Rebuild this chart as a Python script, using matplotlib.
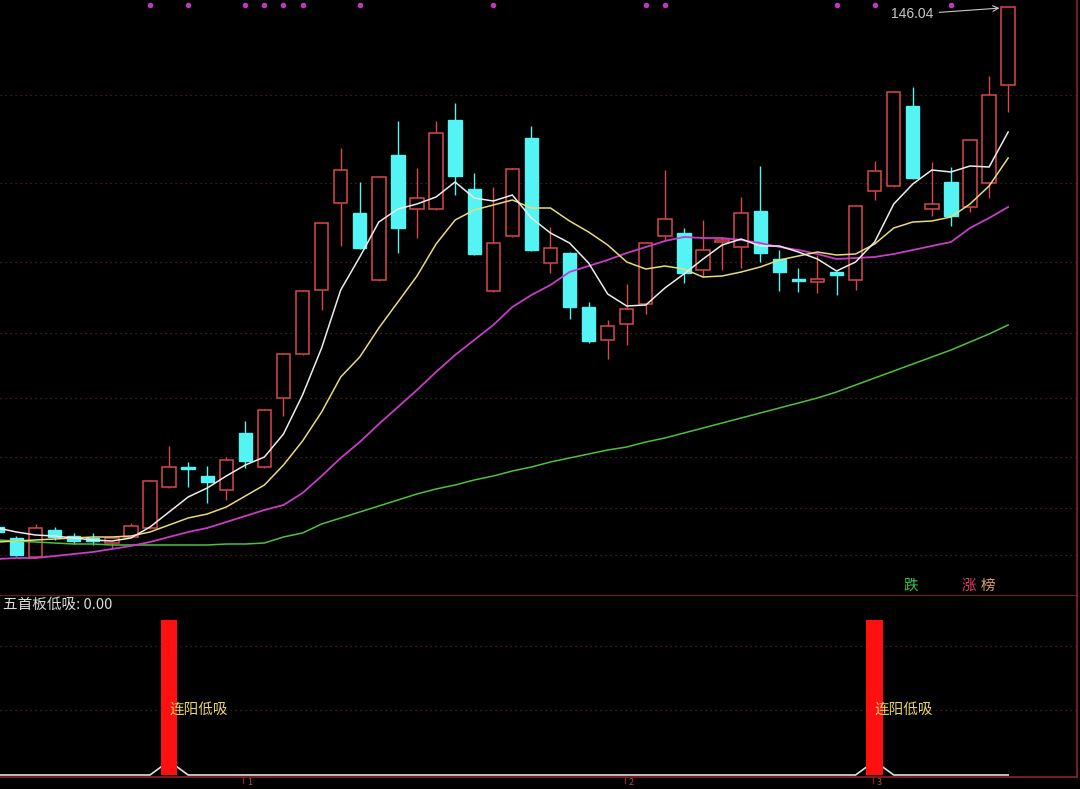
import matplotlib
matplotlib.use("Agg")
import matplotlib.pyplot as plt
import matplotlib.transforms as mtransforms

plt.rcParams['font.family'] = ['Noto Sans CJK SC', 'DejaVu Sans']

# ---------------- 日K数据 ----------------
opens = [52.44, 50.46, 47.04, 51.90, 50.82, 50.46, 49.56, 50.64, 52.26, 59.64,
         63.24, 61.62, 59.10, 69.36, 63.24, 75.66, 83.58, 95.10, 110.76, 108.96,
         96.90, 119.40, 109.68, 109.68, 125.70, 113.28, 94.92, 104.82, 122.46, 99.96,
         101.76, 92.04, 86.10, 88.98, 92.58, 104.82, 105.36, 98.70, 103.74, 102.84,
         109.32, 100.68, 97.08, 96.54, 98.34, 96.90, 112.92, 113.82, 128.22, 109.68,
         114.54, 110.04, 114.36, 132.00]
closes = [51.54, 47.40, 52.26, 50.64, 49.92, 49.92, 50.46, 52.62, 60.72, 63.24,
          62.88, 60.54, 64.50, 64.32, 73.50, 83.58, 94.92, 107.16, 116.70, 102.66,
          115.44, 106.26, 111.66, 123.36, 115.62, 101.58, 103.56, 116.88, 102.30, 102.66,
          92.04, 85.92, 88.62, 91.68, 103.56, 107.88, 98.16, 102.30, 104.10, 108.96,
          101.76, 98.34, 96.72, 97.08, 97.80, 110.22, 116.52, 130.74, 115.26, 110.58,
          108.42, 122.10, 130.20, 146.04]
highs = [52.80, 50.82, 52.98, 52.44, 51.36, 51.36, 50.64, 53.16, 60.90, 67.02,
         64.14, 63.42, 65.04, 71.52, 73.68, 83.76, 95.10, 107.34, 120.66, 114.54,
         115.62, 125.52, 117.06, 125.52, 128.76, 116.16, 113.64, 117.06, 124.62, 106.44,
         101.94, 92.94, 89.70, 96.18, 103.74, 116.70, 106.26, 107.70, 104.64, 111.84,
         117.42, 102.30, 99.06, 101.40, 98.52, 110.40, 118.32, 130.92, 131.64, 118.14,
         117.24, 122.28, 133.62, 146.04]
lows = [51.00, 47.22, 46.86, 50.10, 49.38, 49.20, 48.66, 50.46, 52.08, 59.46,
        59.64, 56.76, 57.30, 63.06, 63.06, 72.42, 83.40, 91.50, 103.02, 102.48,
        96.72, 101.76, 104.46, 109.50, 112.20, 101.40, 94.74, 104.64, 102.12, 98.16,
        89.88, 85.56, 82.68, 85.20, 90.78, 104.10, 96.36, 97.44, 98.70, 99.06,
        100.14, 94.92, 94.74, 94.56, 94.20, 95.10, 111.30, 113.64, 115.08, 108.42,
        106.62, 109.14, 111.66, 127.14]

# 均线
ma5 = [52.26, 51.54, 51.00, 50.82, 50.46, 50.10, 49.92, 50.46, 52.44, 55.14,
       57.84, 59.46, 61.62, 63.60, 65.04, 69.18, 76.20, 84.66, 95.10, 101.04,
       107.34, 109.68, 110.58, 111.84, 114.54, 111.66, 111.12, 112.20, 108.06, 105.36,
       103.56, 99.96, 94.38, 92.22, 92.40, 95.46, 97.98, 100.68, 103.20, 104.28,
       103.02, 103.02, 101.94, 100.68, 98.52, 100.14, 103.74, 110.58, 114.18, 116.70,
       116.34, 117.42, 117.24, 123.54]
ma10 = [49.74, 49.92, 50.10, 50.28, 50.46, 50.64, 50.64, 50.82, 51.54, 52.80,
        54.06, 54.78, 56.04, 58.02, 60.00, 63.60, 67.92, 73.14, 79.44, 83.04,
        88.26, 92.94, 97.62, 103.38, 107.70, 109.50, 110.40, 111.30, 109.86, 109.86,
        107.52, 105.54, 103.20, 100.14, 98.88, 99.42, 98.88, 97.44, 97.62, 98.34,
        99.24, 100.50, 101.22, 101.94, 101.40, 101.58, 103.38, 106.26, 107.34, 107.52,
        108.24, 110.58, 113.82, 118.86]
ma20 = [46.68, 46.86, 46.86, 47.22, 47.58, 47.94, 48.48, 49.02, 49.74, 50.64,
        51.54, 52.26, 53.34, 54.42, 55.50, 56.40, 58.56, 61.62, 64.86, 67.74,
        70.98, 74.04, 77.10, 80.34, 83.40, 86.10, 88.80, 92.04, 94.20, 96.00,
        98.34, 99.42, 100.50, 101.76, 102.84, 103.92, 104.64, 104.46, 104.46, 104.10,
        103.56, 102.84, 102.30, 101.58, 100.68, 100.86, 101.04, 101.58, 102.30, 103.02,
        103.74, 106.26, 108.06, 110.04]
ma60 = [50.10, 49.92, 49.74, 49.56, 49.38, 49.38, 49.20, 49.20, 49.20, 49.20,
        49.20, 49.20, 49.38, 49.38, 49.56, 50.64, 51.36, 52.98, 54.06, 55.14,
        56.22, 57.30, 58.38, 59.28, 60.00, 60.90, 61.62, 62.52, 63.24, 64.14,
        64.86, 65.58, 66.30, 66.84, 67.74, 68.46, 69.36, 70.26, 71.16, 72.06,
        72.96, 73.86, 74.76, 75.66, 76.74, 78.00, 79.26, 80.52, 81.78, 83.04,
        84.30, 85.74, 87.18, 88.80]

dot_days = [8, 10, 13, 14, 15, 16, 19, 26, 34, 35, 44, 46, 50]
grid_main = [130.20, 114.36, 100.14, 87.36, 75.66, 65.04, 55.86, 47.40]
top_price = 146.04
top_day = 53

# 副图: 五首板低吸
signal_days = [9, 46]
signal_vals = [100, 100]
signal_line = [0.0] * 9 + [9.0] + [0.0] * 36 + [9.0] + [0.0] * 7
grid_sub = [83, 42]
month_days = [13, 33, 46]
month_labels = ['1', '2', '3']

UP = '#d8484c'
DOWN = '#54f4f4'
BORDER = '#8a2222'
GRID = '#5a2a2a'

fig = plt.figure(figsize=(10.8, 7.89), dpi=100, facecolor='black')
W, H = 1080.0, 789.0
ax = fig.add_axes([0, 1 - 596 / H, 1077 / W, 596 / H])
ax2 = fig.add_axes([0, 1 - 777 / H, 1077 / W, (777 - 596) / H], sharex=ax)

for a in (ax, ax2):
    a.set_facecolor('black')
    a.tick_params(left=False, bottom=False, labelleft=False, labelbottom=False)
    for s in ('top', 'left'):
        a.spines[s].set_visible(False)
    for s in ('bottom', 'right'):
        a.spines[s].set_color(BORDER)
        a.spines[s].set_linewidth(1.2)

# -------- 主图 --------
for g in grid_main:
    ax.axhline(g, color=GRID, lw=0.9, ls=(0, (1, 3)), zorder=0)

days = list(range(len(opens)))
for i in days:
    o, c, h, l = opens[i], closes[i], highs[i], lows[i]
    top, bot = max(o, c), min(o, c)
    if c >= o:
        ax.vlines(i, top, h, color=UP, lw=1, zorder=2)
        ax.vlines(i, l, bot, color=UP, lw=1, zorder=2)
        ax.bar(i, top - bot, bottom=bot, width=0.7, facecolor='black',
               edgecolor=UP, linewidth=1.1, zorder=3)
    else:
        ax.vlines(i, l, h, color=DOWN, lw=1, zorder=2)
        ax.bar(i, top - bot, bottom=bot, width=0.7, facecolor=DOWN,
               edgecolor=DOWN, linewidth=1, zorder=3)

ax.plot(days, ma60, color='#4cc23c', lw=1.1, zorder=4)
ax.plot(days, ma20, color='#c83cc8', lw=1.3, zorder=4)
ax.plot(days, ma10, color='#e6dc78', lw=1.1, zorder=4)
ax.plot(days, ma5, color='#ececec', lw=1.1, zorder=5)

trans = mtransforms.blended_transform_factory(ax.transData, ax.transAxes)
ax.scatter(dot_days, [0.991] * len(dot_days), transform=trans, s=9,
           color='#b83cb8', zorder=6, clip_on=False)

ax.annotate(f'{top_price:.2f}', xy=(top_day - 0.45, top_price - 0.2),
            xytext=(49.1, top_price - 1.3), ha='right', va='center',
            color='#c8c8c8', fontsize=10, family=['Liberation Sans', 'DejaVu Sans'],
            arrowprops=dict(arrowstyle='->', color='#c8c8c8', lw=0.8,
                            shrinkA=2, shrinkB=0))

ax.set_xlim(0.135, 56.61)
ax.set_ylim(40.02, 147.3)

fig.text(911 / W, 1 - 586 / H, '跌', color='#3cc84a', fontsize=10.5,
         ha='center', va='center')
fig.text(969 / W, 1 - 586 / H, '涨', color='#e03c64', fontsize=10.5,
         ha='center', va='center')
fig.text(988 / W, 1 - 586 / H, '榜', color='#dca070', fontsize=10.5,
         ha='center', va='center')

# -------- 副图 --------
for g in grid_sub:
    ax2.axhline(g, color=GRID, lw=0.9, ls=(0, (1, 3)), zorder=0)

ax2.plot(days, signal_line, color='#e0e0e0', lw=1.2, zorder=2)
ax2.bar(signal_days, signal_vals, width=0.88, color='#ff1010', zorder=3)
for d in signal_days:
    ax2.text(d, 42, '连阳低吸', color='#e8d468', fontsize=10.5,
             ha='left', va='center', zorder=4)

ax2.text(3 / 1077, 0.95, '五首板低吸: 0.00', transform=ax2.transAxes,
         color='#dcdcdc', fontsize=10.5, ha='left', va='center')

ax2.set_ylim(-1.3, 115.5)

trans2 = mtransforms.blended_transform_factory(ax2.transData, ax2.transAxes)
for d, lab in zip(month_days, month_labels):
    ax2.plot([d - 0.1, d - 0.1], [0, -0.035], transform=trans2, color=BORDER,
             lw=1, clip_on=False)
    ax2.text(d + 0.08, -0.005, lab, transform=trans2, color='#b05050',
             fontsize=6.5, ha='left', va='top', clip_on=False)

fig.savefig('out.png', dpi=100, facecolor='black')
